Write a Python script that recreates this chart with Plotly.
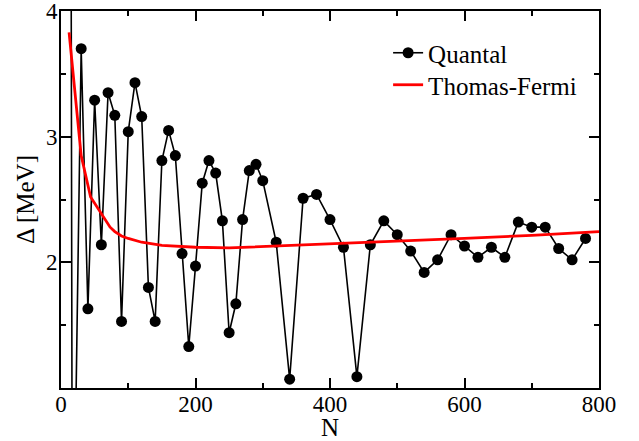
import plotly.graph_objects as go

# Quantal pairing gap
quantal_N = [14, 17, 30, 40, 50, 60, 70, 80, 90, 100, 110, 120, 130, 140, 150, 160, 170, 180, 190,
             200, 210, 220, 230, 240, 250, 260, 270, 280, 290, 300, 320, 340, 360, 380, 400,
             420, 440, 460, 480, 500, 520, 540, 560, 580, 600, 620, 640, 660, 680, 700, 720,
             740, 760, 780]
quantal_gap = [7.5, -1.0, 3.70, 1.63, 3.29, 2.14, 3.35, 3.17, 1.53, 3.04, 3.43, 3.16, 1.80, 1.53,
               2.81, 3.05, 2.85, 2.07, 1.33, 1.97, 2.63, 2.81, 2.71, 2.33, 1.44, 1.67, 2.34, 2.73,
               2.78, 2.65, 2.16, 1.07, 2.51, 2.54, 2.34, 2.12, 1.09, 2.14, 2.33, 2.22, 2.09, 1.92,
               2.02, 2.22, 2.13, 2.04, 2.12, 2.04, 2.32, 2.28, 2.28, 2.11, 2.02, 2.19]

# Thomas-Fermi curve
tf_N = [12, 20, 30, 44, 58, 73, 80, 90, 100, 120, 150, 200, 250, 300, 400, 500, 600, 700, 800]
tf_gap = [3.83, 3.37, 2.85, 2.52, 2.40, 2.28, 2.245, 2.21, 2.19, 2.16, 2.135, 2.12, 2.115, 2.125,
          2.15, 2.17, 2.19, 2.215, 2.245]

x_ticks = [0, 200, 400, 600, 800]
y_ticks = [2, 3, 4]

FONT = "Liberation Serif"

fig = go.Figure()
fig.add_trace(go.Scatter(
    x=quantal_N, y=quantal_gap, mode="lines+markers", name="Quantal",
    line=dict(color="black", width=1.6),
    marker=dict(color="black", size=11, symbol="circle"),
    legend="legend",
))
fig.add_trace(go.Scatter(
    x=tf_N, y=tf_gap, mode="lines", name="Thomas-Fermi",
    line=dict(color="red", width=2.8),
    legend="legend2",
))

axis_common = dict(
    showline=True, linecolor="black", linewidth=2, mirror="ticks",
    ticks="inside", ticklen=10, tickwidth=2, tickcolor="black",
    showgrid=False, zeroline=False, automargin=False, ticklabeloverflow="allow",
    tickfont=dict(family=FONT, size=23, color="black"),
)

fig.update_xaxes(
    range=[0, 800], tickvals=x_ticks, ticklabelstandoff=-6,
    title=dict(text="N", font=dict(family=FONT, size=25, color="black"), standoff=2),
    minor=dict(dtick=100, ticklen=5, tickwidth=2, tickcolor="black", ticks="inside"),
    **axis_common,
)
fig.update_yaxes(
    range=[1, 4], tickvals=y_ticks, ticklabelstandoff=-3,
    title=dict(text="Δ [MeV]", font=dict(family=FONT, size=25, color="black"), standoff=4),
    minor=dict(tickvals=[1.5, 2.5, 3.5], ticklen=5, tickwidth=2, tickcolor="black", ticks="inside"),
    **axis_common,
)

leg_common = dict(xanchor="left", yanchor="middle", bgcolor="rgba(0,0,0,0)", borderwidth=0,
                  font=dict(family=FONT, size=25, color="black"))
fig.update_layout(
    width=639, height=441,
    margin=dict(l=61, r=40, t=11, b=53, autoexpand=False),
    paper_bgcolor="white", plot_bgcolor="white",
    font=dict(family=FONT, size=22, color="black"),
    legend=dict(x=0.608, y=1 - (53 - 11) / 377, **leg_common),
    legend2=dict(x=0.608, y=1 - (85 - 11) / 377, **leg_common),
    showlegend=True,
)

fig.write_html("out.html",
               config={"displayModeBar": False, "staticPlot": True},
               post_script="document.body.style.margin='0';document.body.style.overflow='hidden';")
